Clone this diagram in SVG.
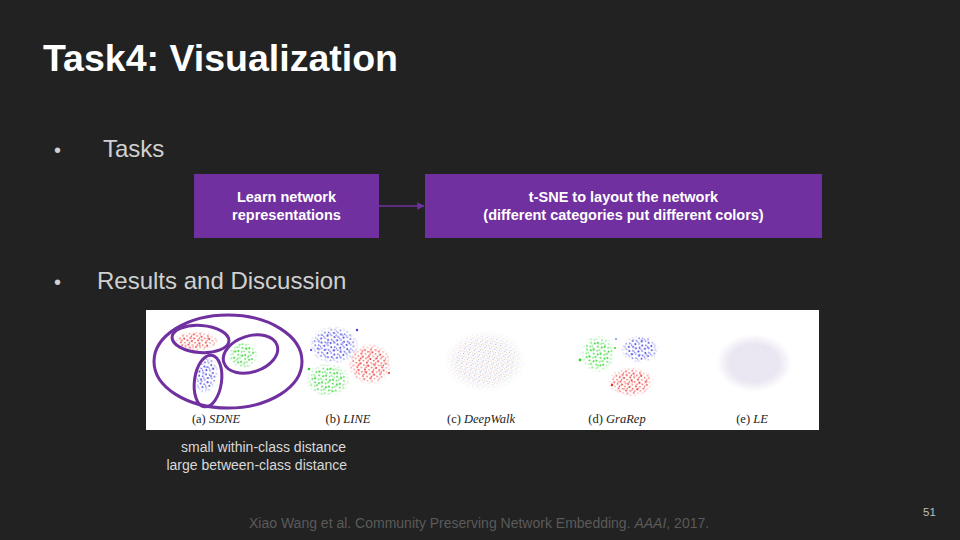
<svg xmlns="http://www.w3.org/2000/svg" width="960" height="540" viewBox="0 0 960 540">
<defs>
<style>
.sans{font-family:"Liberation Sans",Arial,sans-serif}
.box{fill:#7030A0}
.boxt{font-family:"Liberation Sans",Arial,sans-serif;font-weight:bold;font-size:14.5px;fill:#ffffff;text-anchor:middle}
.bul{font-family:"Liberation Sans",Arial,sans-serif;fill:#d0d0d0}
.cap{font-family:"Liberation Serif","Times New Roman",serif;font-size:12.5px;fill:#222;text-anchor:middle}
.ring{fill:none;stroke:#7030A0;stroke-width:3}
.note{font-family:"Liberation Sans",Arial,sans-serif;font-size:14px;fill:#d9d9d9;text-anchor:end}
</style>
<marker id="arr" viewBox="0 0 10 10" refX="9" refY="5" markerWidth="5" markerHeight="5" orient="auto"><path d="M0,0 L10,5 L0,10 z" fill="#7030A0"/></marker>
<radialGradient id="rg"><stop offset="0" stop-color="#fff"/><stop offset="0.65" stop-color="#fff"/><stop offset="1" stop-color="#000"/></radialGradient>
<mask id="fade" maskContentUnits="objectBoundingBox"><ellipse cx=".5" cy=".5" rx=".5" ry=".5" fill="url(#rg)"/></mask>
<pattern id="pr" width="8" height="7" patternUnits="userSpaceOnUse" patternTransform="rotate(17)" fill="#e8302a">
<circle cx="1" cy="1.5" r=".9"/><circle cx="5" cy=".8" r=".7"/><circle cx="3.2" cy="4" r="1"/><circle cx="6.8" cy="4.8" r=".8"/><circle cx="1.5" cy="6.2" r=".7"/>
</pattern>
<pattern id="pr2" width="11" height="9" patternUnits="userSpaceOnUse" patternTransform="rotate(-40)" fill="#f04848">
<circle cx="2" cy="3" r=".7"/><circle cx="8" cy="6" r=".8"/>
</pattern>
<pattern id="pb" width="7" height="8" patternUnits="userSpaceOnUse" patternTransform="rotate(-23)" fill="#3a3ae0">
<circle cx="1.2" cy="1" r=".9"/><circle cx="4.6" cy="2.2" r=".8"/><circle cx="2.4" cy="5" r="1"/><circle cx="6" cy="6.3" r=".7"/><circle cx="5.6" cy="4.2" r=".6"/>
</pattern>
<pattern id="pb2" width="10" height="11" patternUnits="userSpaceOnUse" patternTransform="rotate(50)" fill="#5050f0">
<circle cx="3" cy="2" r=".8"/><circle cx="7" cy="8" r=".7"/>
</pattern>
<pattern id="pg" width="8" height="8" patternUnits="userSpaceOnUse" patternTransform="rotate(31)" fill="#2bd42b">
<circle cx="1" cy="2" r="1"/><circle cx="4.5" cy="1" r=".8"/><circle cx="3" cy="5.3" r=".9"/><circle cx="6.8" cy="4" r="1"/><circle cx="6" cy="7.2" r=".7"/>
</pattern>
<pattern id="pg2" width="12" height="9" patternUnits="userSpaceOnUse" patternTransform="rotate(-15)" fill="#40e040">
<circle cx="3" cy="4" r=".8"/><circle cx="9" cy="1" r=".7"/>
</pattern>
<pattern id="pm" width="5" height="5" patternUnits="userSpaceOnUse" patternTransform="rotate(11)">
<circle cx="1" cy="1" r=".55" fill="#e06060"/><circle cx="3.5" cy="1.7" r=".5" fill="#5a8a5a"/><circle cx="2.2" cy="3.6" r=".55" fill="#6a6ae0"/><circle cx="4.4" cy="4.3" r=".45" fill="#999"/>
</pattern>
<pattern id="pl" width="3" height="3" patternUnits="userSpaceOnUse" patternTransform="rotate(7)">
<rect width="3" height="3" fill="#efebf5"/><circle cx=".8" cy=".8" r=".45" fill="#d3c6e0"/><circle cx="2.3" cy="1.6" r=".4" fill="#c4cdec"/><circle cx="1.4" cy="2.5" r=".4" fill="#e0ccd4"/>
</pattern>
</defs>
<rect width="960" height="540" fill="#222222"/>
<text x="43" y="71" class="sans" font-size="37.5" font-weight="bold" fill="#ffffff">Task4: Visualization</text>
<text x="54" y="157" class="bul" font-size="20">•</text>
<text x="103" y="157" class="bul" font-size="24">Tasks</text>
<text x="54" y="289" class="bul" font-size="20">•</text>
<text x="97" y="289" class="bul" font-size="24">Results and Discussion</text>
<g id="connectors">
<line x1="379" y1="206" x2="424" y2="206" stroke="#7030A0" stroke-width="1.5" marker-end="url(#arr)"/>
</g>
<g id="box1">
<rect class="box" x="194" y="174" width="185" height="64"/>
<text class="boxt" x="286.5" y="202">Learn network</text>
<text class="boxt" x="286.5" y="220">representations</text>
</g>
<g id="box2">
<rect class="box" x="425" y="174" width="397" height="64"/>
<text class="boxt" x="623.5" y="202">t-SNE to layout the network</text>
<text class="boxt" x="623.5" y="220">(different categories put different colors)</text>
</g>
<g id="figure">
<rect x="146" y="310" width="673" height="120" fill="#ffffff"/>
<!-- SDNE -->
<g mask="url(#fade)"><ellipse cx="196" cy="341" rx="23" ry="10" fill="url(#pr)"/><ellipse cx="196" cy="341" rx="23" ry="10" fill="url(#pr2)"/></g>
<g mask="url(#fade)"><ellipse cx="243" cy="355" rx="15" ry="14" fill="url(#pg)"/><ellipse cx="243" cy="355" rx="15" ry="14" fill="url(#pg2)"/></g>
<g mask="url(#fade)" transform="rotate(12 206 375)"><ellipse cx="206" cy="375" rx="12" ry="19" fill="url(#pb)"/><ellipse cx="206" cy="375" rx="12" ry="19" fill="url(#pb2)"/></g>
<ellipse class="ring" cx="228" cy="361.5" rx="74" ry="46.5"/>
<ellipse class="ring" cx="200.5" cy="339" rx="28.5" ry="13.5" transform="rotate(4 200.5 339)"/>
<ellipse class="ring" cx="250.5" cy="354" rx="28" ry="18" transform="rotate(-18 250.5 354)"/>
<ellipse class="ring" cx="208" cy="381" rx="13.5" ry="26" transform="rotate(8 208 381)"/>
<text class="cap" x="216" y="423">(a) <tspan font-style="italic">SDNE</tspan></text>
<!-- LINE -->
<g mask="url(#fade)"><ellipse cx="334" cy="345" rx="25" ry="19" fill="url(#pb)"/><ellipse cx="334" cy="345" rx="25" ry="19" fill="url(#pb2)"/></g>
<g mask="url(#fade)"><ellipse cx="370" cy="364" rx="22" ry="21" fill="url(#pr)"/><ellipse cx="370" cy="364" rx="22" ry="21" fill="url(#pr2)"/></g>
<g mask="url(#fade)"><ellipse cx="328" cy="380" rx="22" ry="17" fill="url(#pg)"/><ellipse cx="328" cy="380" rx="22" ry="17" fill="url(#pg2)"/></g>
<circle cx="357" cy="330" r="1.2" fill="#3a3ae0"/><circle cx="311" cy="350" r="1" fill="#3a3ae0"/><circle cx="389" cy="373" r="1" fill="#e8302a"/><circle cx="309" cy="369" r="1.3" fill="#2bd42b"/>
<text class="cap" x="348" y="423">(b) <tspan font-style="italic">LINE</tspan></text>
<!-- DeepWalk -->
<ellipse cx="485" cy="361" rx="41" ry="31" fill="url(#pm)" mask="url(#fade)" opacity="0.75"/>
<text class="cap" x="481" y="423">(c) <tspan font-style="italic">DeepWalk</tspan></text>
<!-- GraRep -->
<g mask="url(#fade)"><ellipse cx="598" cy="354" rx="17" ry="19" fill="url(#pg)"/><ellipse cx="598" cy="354" rx="17" ry="19" fill="url(#pg2)"/></g>
<g mask="url(#fade)"><ellipse cx="640" cy="349" rx="19" ry="14" fill="url(#pb)"/><ellipse cx="640" cy="349" rx="19" ry="14" fill="url(#pb2)"/></g>
<g mask="url(#fade)"><ellipse cx="631" cy="382" rx="23" ry="15" fill="url(#pr)"/><ellipse cx="631" cy="382" rx="23" ry="15" fill="url(#pr2)"/></g>
<circle cx="580" cy="360" r="1.4" fill="#2bd42b"/><circle cx="615" cy="348" r="1" fill="#2bd42b"/><circle cx="616" cy="339" r="0.8" fill="#3a3ae0"/><circle cx="612" cy="385" r="1.2" fill="#e8302a"/>
<text class="cap" x="617" y="423">(d) <tspan font-style="italic">GraRep</tspan></text>
<!-- LE -->
<ellipse cx="754" cy="363" rx="38" ry="29" fill="url(#pl)" mask="url(#fade)"/>
<text class="cap" x="752" y="423">(e) <tspan font-style="italic">LE</tspan></text>
</g>
<text class="note" x="346" y="452">small within-class distance</text>
<text class="note" x="347" y="470">large between-class distance</text>
<text x="249" y="528" class="sans" font-size="14" fill="#5a5a5a">Xiao Wang et al. Community Preserving Network Embedding. <tspan font-style="italic">AAAI</tspan>, 2017.</text>
<text x="923" y="516" class="sans" font-size="11.5" fill="#bfbfbf">51</text>
</svg>
